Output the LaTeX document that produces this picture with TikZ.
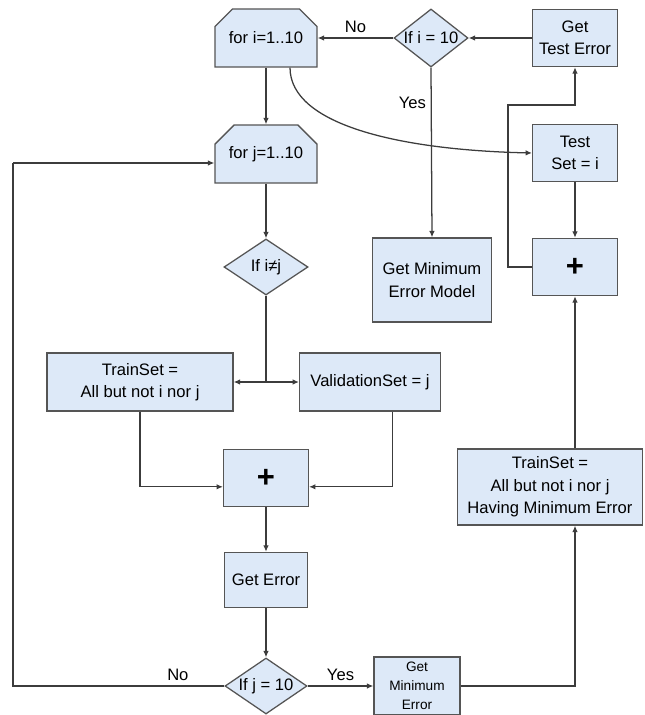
\documentclass[tikz,border=0pt]{standalone}
\usepackage{fontspec}
\setmainfont{Liberation Sans}
\usetikzlibrary{arrows.meta}
\usetikzlibrary{shapes.geometric}
\usetikzlibrary{shapes.misc}
\definecolor{boxfill}{RGB}{221,233,248}
\definecolor{boxline}{RGB}{85,85,85}
\definecolor{flowline}{RGB}{60,60,60}
\tikzset{>={Latex[width=1.4mm,length=1.6mm]}}
\tikzset{
  box/.style={draw=boxline,fill=boxfill,line width=0.9pt,align=center,inner sep=1pt,
    font=\fontsize{11.8}{16}\selectfont},
  loopbox/.style={box,chamfered rectangle,chamfered rectangle corners={north west,north east},
    chamfered rectangle xsep=0.25cm,chamfered rectangle ysep=0.25cm,
    minimum width=2.55cm,minimum height=1.45cm},
  decision/.style={box,diamond,aspect=1.46,inner sep=0pt},
  flow/.style={draw=flowline,line width=0.9pt},
  plussign/.style={font=\fontsize{22}{22}\selectfont\bfseries}
}

\begin{document}
\begin{tikzpicture}[x=0.025cm,y=-0.025cm]

  \useasboundingbox (0,0) rectangle (644,715);

  \coordinate (split) at (266,382);
  \coordinate (backR) at (508,105);
  \coordinate (loopL) at (13,163);

  \node[loopbox] (fori) at (266,38) {for i=1..10};
  \node[loopbox] (forj) at (266,154) {for j=1..10};
  \node[decision,minimum width=1.85cm,minimum height=1.45cm] (ifi) at (431,38) {If i = 10};
  \node[box,minimum width=2.12cm,minimum height=1.43cm] (gte) at (575,38) {Get\\Test Error};
  \node[box,minimum width=2.12cm,minimum height=1.43cm] (testset) at (575,153) {Test\\Set = i};
  \node[box,minimum width=2.12cm,minimum height=1.43cm,plussign] (plusR) at (575,267) {+};
  \node[box,minimum width=2.98cm,minimum height=2.1cm] (gmem) at (432,280) {Get Minimum\\Error Model};

  \node[decision,minimum width=2.1cm,minimum height=1.4cm] (ifij) at (266,267) {If i≠j};
  \node[box,minimum width=4.65cm,minimum height=1.45cm] (train) at (140,382) {TrainSet =\\All but not i nor j};
  \node[box,minimum width=3.52cm,minimum height=1.45cm] (valid) at (370,382) {ValidationSet = j};
  \node[box,minimum width=2.12cm,minimum height=1.43cm,plussign] (plusL) at (266,478) {+};
  \node[box,minimum width=2.08cm,minimum height=1.38cm] (gerr) at (266,580) {Get Error};
  \node[decision,minimum width=2.05cm,minimum height=1.4cm] (ifj) at (266,686) {If j = 10};
  \node[box,minimum width=2.15cm,minimum height=1.45cm,font=\fontsize{9.7}{13.5}\selectfont] (gme) at (417,686) {Get\\Minimum\\Error};
  \node[box,minimum width=4.62cm,minimum height=1.9cm] (tsm) at (550,487) {TrainSet =\\All but not i nor j\\Having Minimum Error};

  \draw[flow,->] (ifi.west) -- (fori.east) node[midway,above,font=\fontsize{11.8}{14}\selectfont]{No};
  \draw[flow,->] (gte.west) -- (ifi.east);
  \draw[flow,->] (ifi.south) -- (gmem.north) node[pos=0.21,left,font=\fontsize{11.8}{14}\selectfont]{Yes};
  \draw[flow,->] (fori.south) -- (forj.north);
  \draw[flow,->] ([xshift=0.6cm]fori.south) .. controls (290,125) and (400,150) .. (testset.west);
  \draw[flow,->] (testset.south) -- (plusR.north);
  \draw[flow,->] (plusR.west) -| (backR) -| (gte.south);

  \draw[flow,->] (forj.south) -- (ifij.north);
  \draw[flow] (ifij.south) -- (split);
  \draw[flow,->] (split) -- (train.east);
  \draw[flow,->] (split) -- (valid.west);
  \draw[flow,->] (train.south) |- ([yshift=-0.22cm]plusL.west);
  \draw[flow,->] ([xshift=0.57cm]valid.south) |- ([yshift=-0.22cm]plusL.east);
  \draw[flow,->] (plusL.south) -- (gerr.north);
  \draw[flow,->] (gerr.south) -- (ifj.north);
  \draw[flow] (ifj.west) -| (loopL) node[pos=0.11,above,font=\fontsize{11.8}{14}\selectfont]{No};
  \draw[flow,->] (loopL) -- (loopL -| forj.west);
  \draw[flow,->] (ifj.east) -- (gme.west) node[midway,above,font=\fontsize{11.8}{14}\selectfont]{Yes};
  \draw[flow,->] (gme.east) -| (plusR.south |- tsm.south);
  \draw[flow,->] (plusR.south |- tsm.north) -- (plusR.south);

\end{tikzpicture}
\end{document}
